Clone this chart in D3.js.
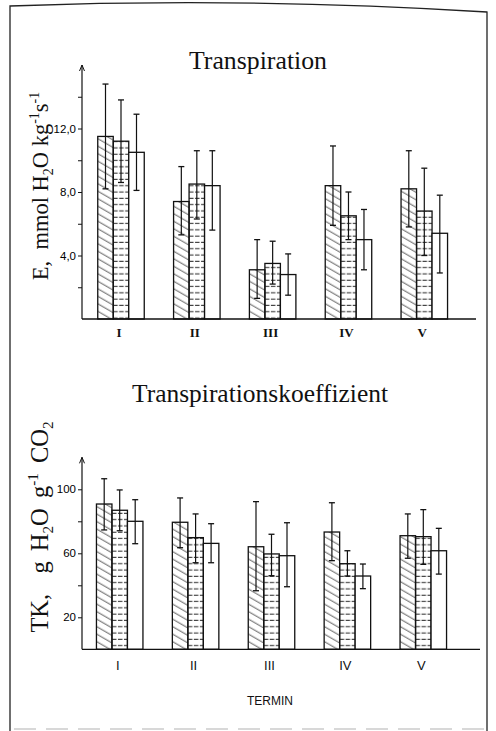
<!DOCTYPE html>
<html>
<head>
<meta charset="utf-8">
<script src="https://cdn.jsdelivr.net/npm/d3@7"></script>
<style>
  body { margin: 0; background: #fff; }
  svg { display: block; }
</style>
</head>
<body>
<svg id="chart" width="496" height="731"></svg>
<script>
'use strict';

// Termine (Messzeitpunkte)
var terms = ["I", "II", "III", "IV", "V"];

// Transpiration E, mmol H2O kg-1 s-1  (3 Varianten je Termin)
var eMean = [[11.5, 11.2, 10.5], [7.4, 8.5, 8.4], [3.1, 3.5, 2.8], [8.4, 6.5, 5.0], [8.2, 6.8, 5.4]];
var eHigh = [[14.8, 13.8, 12.9], [9.6, 10.6, 10.6], [5.0, 4.9, 4.1], [10.9, 8.0, 6.9], [10.6, 9.5, 7.8]];
var eLow  = [[8.2, 8.6, 8.1], [5.3, 6.3, 5.6], [1.3, 2.2, 1.5], [5.9, 5.0, 3.1], [5.8, 4.0, 2.9]];
var eTicks = [2, 4, 6, 8, 10, 12, 14];
var eLabels = [4, 8, 12];

// Transpirationskoeffizient TK, g H2O g-1 CO2
var tkMean = [[90.8, 86.9, 80.0], [79.4, 69.8, 66.2], [64.1, 59.6, 58.5], [73.3, 53.5, 45.8], [71.0, 70.4, 61.6]];
var tkHigh = [[106.6, 99.6, 93.5], [94.6, 84.6, 78.5], [92.3, 71.9, 79.1], [91.6, 61.6, 53.3], [84.6, 87.3, 75.6]];
var tkLow  = [[74.6, 74.1, 66.0], [63.5, 54.1, 54.1], [36.6, 46.0, 39.1], [55.4, 45.8, 37.9], [56.9, 53.1, 47.0]];
var tkTicks = [20, 40, 60, 80, 100];
var tkLabels = [20, 60, 100];

var svg = d3.select("#chart");
var serif = "'Liberation Serif', 'Times New Roman', serif";
var sans = "'Liberation Sans', Arial, sans-serif";

// hatch patterns
var defs = svg.append("defs");
var pDiag = defs.append("pattern").attr("id", "diag")
  .attr("patternUnits", "userSpaceOnUse").attr("width", 12).attr("height", 6.5)
  .attr("patternTransform", "rotate(30)");
pDiag.append("line").attr("x1", 0).attr("y1", 3).attr("x2", 12).attr("y2", 3)
  .attr("stroke", "#333").attr("stroke-width", 0.8);
var pHor = defs.append("pattern").attr("id", "hor")
  .attr("patternUnits", "userSpaceOnUse").attr("width", 6).attr("height", 6.3);
pHor.append("line").attr("x1", 0).attr("y1", 3).attr("x2", 4.5).attr("y2", 3)
  .attr("stroke", "#222").attr("stroke-width", 1);
var fills = ["url(#diag)", "url(#hor)", "#fff"];

// frame of the scanned page
svg.append("path")
  .attr("d", "M10,731 V6 Q248,-3 487,12 V731")
  .attr("fill", "none").attr("stroke", "#222").attr("stroke-width", 1.3);
svg.append("line").attr("x1", 14).attr("x2", 484).attr("y1", 729).attr("y2", 729)
  .attr("stroke", "#ccc").attr("stroke-width", 1.5).attr("stroke-dasharray", "22,10");

function panel(opt) {
  var g = svg.append("g");
  var x = d3.scalePoint().domain(terms).range(opt.xRange);
  var xb = d3.scaleBand().domain([0, 1, 2]).range([-23.25, 23.25]);
  var y = d3.scaleLinear().domain(opt.yDomain).range(opt.yRange);
  var axisX = 82;

  // y axis with ticks on left
  var yAxis = d3.axisLeft(y).tickValues(opt.ticks).tickSize(4).tickPadding(2)
    .tickFormat(function (d) { return opt.labels.indexOf(d) >= 0 ? opt.fmt(d) : ""; });
  var ya = g.append("g").attr("transform", "translate(" + axisX + ",0)").call(yAxis);
  ya.select(".domain").remove();
  ya.selectAll("line").attr("stroke", "#111").attr("stroke-width", 1);
  ya.selectAll("text").attr("font-family", sans).attr("font-size", 11.5).attr("fill", "#000");

  var yTop = y(opt.yDomain[1]);
  g.append("line").attr("x1", axisX).attr("x2", axisX)
    .attr("y1", y(0)).attr("y2", yTop)
    .attr("stroke", "#111").attr("stroke-width", 1.2);
  g.append("path")
    .attr("d", "M" + (axisX - 2.5) + "," + (yTop + 6) + " L" + axisX + "," + yTop + " L" + (axisX + 2.5) + "," + (yTop + 6))
    .attr("fill", "none").attr("stroke", "#111").attr("stroke-width", 1);

  // bars
  var rows = [];
  terms.forEach(function (t, i) {
    for (var k = 0; k < 3; k++) {
      rows.push({ t: t, k: k, v: opt.mean[i][k], hi: opt.high[i][k], lo: opt.low[i][k] });
    }
  });
  var bars = g.selectAll(".bar").data(rows).enter().append("g")
    .attr("transform", function (d) { return "translate(" + (x(d.t) + xb(d.k)) + ",0)"; });
  bars.append("rect")
    .attr("x", 0).attr("width", xb.bandwidth())
    .attr("y", function (d) { return y(d.v); })
    .attr("height", function (d) { return y(0) - y(d.v); })
    .attr("fill", function (d) { return fills[d.k]; })
    .attr("stroke", "#111").attr("stroke-width", 1.3);

  var cx = xb.bandwidth() / 2;
  bars.append("line")
    .attr("x1", cx).attr("x2", cx)
    .attr("y1", function (d) { return y(d.lo); })
    .attr("y2", function (d) { return y(d.hi); })
    .attr("stroke", "#111").attr("stroke-width", 1.2);
  ["hi", "lo"].forEach(function (key) {
    bars.append("line")
      .attr("x1", cx - 3).attr("x2", cx + 3)
      .attr("y1", function (d) { return y(d[key]); })
      .attr("y2", function (d) { return y(d[key]); })
      .attr("stroke", "#111").attr("stroke-width", 1.3);
  });

  // baseline
  g.append("line").attr("x1", axisX).attr("x2", opt.baseEnd)
    .attr("y1", y(0)).attr("y2", y(0))
    .attr("stroke", "#111").attr("stroke-width", 1.3);

  // x labels
  g.selectAll(".xl").data(terms).enter().append("text")
    .attr("x", function (d) { return x(d) - 2; })
    .attr("y", opt.xLabelY)
    .attr("text-anchor", "middle")
    .attr("font-family", opt.xFont).attr("font-size", opt.xFontSize)
    .attr("font-weight", opt.xWeight).attr("fill", "#111")
    .text(function (d) { return d; });

  // title
  g.append("text").attr("x", opt.titleX).attr("y", opt.titleY)
    .attr("text-anchor", "middle").attr("font-family", serif)
    .attr("font-size", 26).attr("fill", "#111")
    .attr("textLength", opt.titleLen).attr("lengthAdjust", "spacingAndGlyphs")
    .text(opt.title);

  // y title (rotated, with sub / superscripts)
  var fs = opt.yTitleSize;
  var yt = g.append("text")
    .attr("transform", "translate(48," + opt.yTitleY + ") rotate(-90)")
    .attr("text-anchor", "middle").attr("font-family", serif)
    .attr("font-size", fs).attr("fill", "#111")
    .attr("word-spacing", opt.yWordSpacing)
    .attr("xml:space", "preserve");
  opt.yTitle.forEach(function (p) {
    var s = yt.append("tspan").text(p[0]);
    if (p[1] === "sub") s.attr("font-size", fs * 0.62).attr("dy", fs * 0.2);
    if (p[1] === "sup") s.attr("font-size", fs * 0.62).attr("dy", -fs * 0.42);
    if (p[1] === "back") s.attr("dy", p[2] * fs);
  });
  return g;
}

panel({
  xRange: [121, 424.3], yDomain: [0, 16], yRange: [319, 65],
  ticks: eTicks, labels: eLabels,
  fmt: function (d) { return d.toFixed(1).replace(".", ","); },
  mean: eMean, high: eHigh, low: eLow, baseEnd: 476,
  xLabelY: 337, xFont: serif, xFontSize: 13, xWeight: "bold",
  title: "Transpiration", titleX: 258, titleY: 69, titleLen: 138,
  yTitleY: 186, yTitleSize: 22.5, yWordSpacing: 0,
  yTitle: [["E,  mmol H"], ["2", "sub"], ["O kg", "back", -0.2], ["-1", "sup"], ["s", "back", 0.42], ["-1", "sup"]]
});

panel({
  xRange: [119.7, 423.3], yDomain: [0, 120], yRange: [649.3, 457.3],
  ticks: tkTicks, labels: tkLabels,
  fmt: function (d) { return String(d); },
  mean: tkMean, high: tkHigh, low: tkLow, baseEnd: 480,
  xLabelY: 670, xFont: sans, xFontSize: 13, xWeight: "normal",
  title: "Transpirationskoeffizient", titleX: 260, titleY: 402, titleLen: 256,
  yTitleY: 527, yTitleSize: 24.5, yWordSpacing: 4,
  yTitle: [["TK,  g H"], ["2", "sub"], ["O g", "back", -0.2], ["-1", "sup"], [" CO", "back", 0.42], ["2", "sub"]]
});

svg.append("text").attr("x", 270).attr("y", 705)
  .attr("text-anchor", "middle").attr("font-family", sans)
  .attr("font-size", 12).attr("fill", "#111").text("TERMIN");
</script>
</body>
</html>
